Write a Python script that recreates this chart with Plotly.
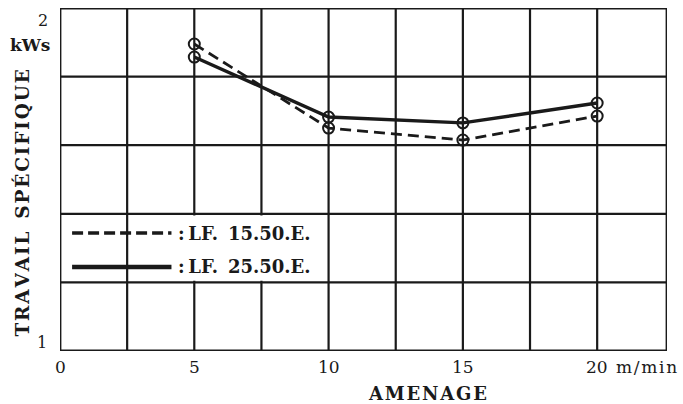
import plotly.graph_objects as go

# Feed rate (m/min) and specific work (kWs) for the two tools
feed = [5, 10, 15, 20]
lf15 = [1.895, 1.650, 1.615, 1.685]   # LF. 15.50.E. (dashed)
lf25 = [1.857, 1.682, 1.665, 1.723]   # LF. 25.50.E. (solid)

x_ticks = [0, 5, 10, 15, 20]
x_tick_text = ["0", "5", "10", "15", "20"]
x_grid = [2.5, 5, 7.5, 10, 12.5, 15, 17.5, 20]
y_grid = [1.2, 1.4, 1.6, 1.8]

X_MAX = 22.6
INK = "#1a1a1a"
SERIF = "DejaVu Serif"


def spaced(s, gap="\u200a"):
    """Loosen letter spacing with hair spaces."""
    return gap.join(s)


fig = go.Figure()

fig.add_trace(go.Scatter(
    x=feed, y=lf15, mode="lines+markers", name="LF. 15.50.E.",
    line=dict(color=INK, width=2.8, dash="11px,6px"),
    marker=dict(symbol="circle-open", size=11, color=INK, line=dict(width=2)),
    cliponaxis=False,
))
fig.add_trace(go.Scatter(
    x=feed, y=lf25, mode="lines+markers", name="LF. 25.50.E.",
    line=dict(color=INK, width=3.4),
    marker=dict(symbol="circle-open", size=11, color=INK, line=dict(width=2)),
    cliponaxis=False,
))

shapes = []
# grid
for gx in x_grid:
    shapes.append(dict(type="line", xref="x", yref="y", x0=gx, x1=gx, y0=1, y1=2,
                       line=dict(color=INK, width=2.2), layer="below"))
for gy in y_grid:
    shapes.append(dict(type="line", xref="x", yref="y", x0=0, x1=X_MAX, y0=gy, y1=gy,
                       line=dict(color=INK, width=2.2), layer="below"))
# blank band behind the key
shapes.append(dict(type="rect", xref="x", yref="y", x0=2.75, x1=9.7, y0=1.205, y1=1.395,
                   fillcolor="white", line=dict(width=0), layer="below"))
# frame
shapes.append(dict(type="rect", xref="x", yref="y", x0=0, x1=X_MAX, y0=1, y1=2,
                   line=dict(color=INK, width=2.8), layer="above"))
# key samples
shapes.append(dict(type="line", xref="x", yref="y", x0=0.45, x1=4.15, y0=1.344, y1=1.344,
                   line=dict(color=INK, width=3.6, dash="11px,5px"), layer="above"))
shapes.append(dict(type="line", xref="x", yref="y", x0=0.45, x1=4.15, y0=1.245, y1=1.245,
                   line=dict(color=INK, width=4.4), layer="above"))

ann = []
for v, t in zip(x_ticks, x_tick_text):
    ann.append(dict(x=v, y=1, xref="x", yref="y", text=t, showarrow=False,
                    yanchor="top", yshift=-4, font=dict(family=SERIF, size=17, color=INK)))
ann.append(dict(x=20, y=1, xref="x", yref="y", text=spaced("m/min"), showarrow=False,
                xanchor="left", yanchor="top", xshift=17, yshift=-4,
                font=dict(family=SERIF, size=17, color=INK)))
ann.append(dict(x=4.15, y=1.344, xref="x", yref="y", text="<b>:\u2009LF.\u2009 15.50.E.</b>",
                showarrow=False, xanchor="left", xshift=5,
                font=dict(family=SERIF, size=18, color=INK)))
ann.append(dict(x=4.15, y=1.245, xref="x", yref="y", text="<b>:\u2009LF.\u2009 25.50.E.</b>",
                showarrow=False, xanchor="left", xshift=5,
                font=dict(family=SERIF, size=18, color=INK)))
ann.append(dict(x=0, y=2, xref="x", yref="y", text="2", showarrow=False,
                xanchor="right", yanchor="middle", xshift=-10, yshift=-12,
                font=dict(family=SERIF, size=16, color=INK)))
ann.append(dict(x=0, y=1, xref="x", yref="y", text="1", showarrow=False,
                xanchor="right", yanchor="middle", xshift=-11, yshift=9,
                font=dict(family=SERIF, size=16, color=INK)))
ann.append(dict(x=0, y=2, xref="x", yref="y", text="<b>kWs</b>", showarrow=False,
                xanchor="right", yanchor="middle", xshift=-8, yshift=-37,
                font=dict(family=SERIF, size=17, color=INK)))
ann.append(dict(x=0, y=1.43, xref="x", yref="y",
                text="<b>" + spaced("TRAVAIL") + "  " + spaced("SPÉCIFIQUE") + "</b>",
                showarrow=False, textangle=-90, xanchor="center", yanchor="middle", xshift=-38,
                font=dict(family=SERIF, size=18.5, color=INK)))
ann.append(dict(x=13.7, y=1, xref="x", yref="y", text="<b>" + spaced("AMENAGE") + "</b>",
                showarrow=False, yanchor="top", yshift=-30,
                font=dict(family=SERIF, size=18, color=INK)))

fig.update_layout(
    width=683, height=404,
    margin=dict(l=60, r=16, t=8, b=53),
    paper_bgcolor="white", plot_bgcolor="white",
    showlegend=False,
    shapes=shapes, annotations=ann,
    xaxis=dict(range=[0, X_MAX], showgrid=False, zeroline=False, showticklabels=False,
               ticks="", fixedrange=True),
    yaxis=dict(range=[1, 2], showgrid=False, zeroline=False, showticklabels=False,
               ticks="", fixedrange=True),
)

fig.write_html("out.html", config={"displayModeBar": False})
